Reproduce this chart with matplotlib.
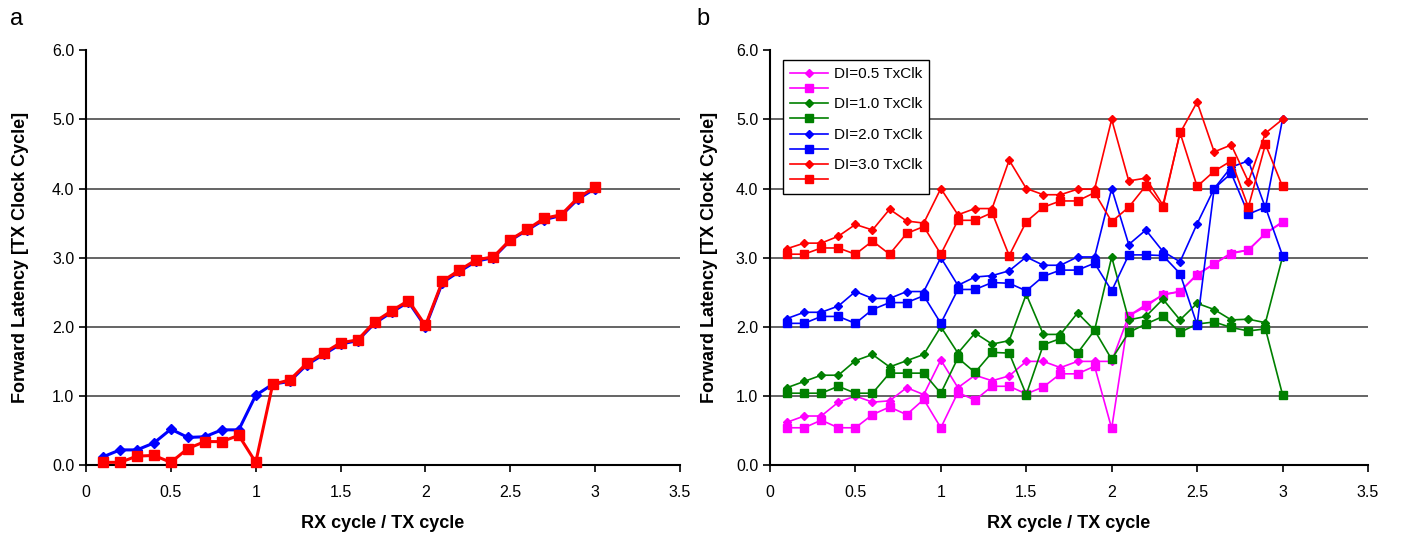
import matplotlib
matplotlib.use('Agg')
import matplotlib.pyplot as plt
from matplotlib.ticker import FormatStrFormatter

plt.rcParams['font.family'] = ['Liberation Sans', 'DejaVu Sans']

# ratio RX cycle / TX cycle
ratio = [0.1, 0.2, 0.3, 0.4, 0.5, 0.6, 0.7, 0.8, 0.9, 1.0,
         1.1, 1.2, 1.3, 1.4, 1.5, 1.6, 1.7, 1.8, 1.9, 2.0,
         2.1, 2.2, 2.3, 2.4, 2.5, 2.6, 2.7, 2.8, 2.9, 3.0]

# panel a
a_diamond = [0.12, 0.22, 0.22, 0.32, 0.52, 0.40, 0.41, 0.51, 0.51, 1.01,
             1.17, 1.21, 1.45, 1.60, 1.75, 1.80, 2.05, 2.21, 2.36, 2.00,
             2.64, 2.80, 2.95, 3.00, 3.25, 3.40, 3.55, 3.61, 3.85, 4.00]
a_square = [0.04, 0.04, 0.13, 0.14, 0.04, 0.24, 0.34, 0.34, 0.43, 0.04,
            1.17, 1.23, 1.47, 1.62, 1.77, 1.81, 2.07, 2.23, 2.38, 2.02,
            2.66, 2.82, 2.97, 3.01, 3.26, 3.41, 3.57, 3.62, 3.87, 4.02]

# panel b, one diamond and one square series per DI value
di_labels = ['DI=0.5 TxClk', 'DI=1.0 TxClk', 'DI=2.0 TxClk', 'DI=3.0 TxClk']
di_colors = ['#FF00FF', '#008000', '#0000FF', '#FF0000']

di05_d = [0.62, 0.71, 0.71, 0.91, 1.00, 0.91, 0.93, 1.12, 1.02, 1.52,
          1.12, 1.30, 1.22, 1.29, 1.50, 1.50, 1.41, 1.50, 1.50, 1.50,
          2.16, 2.29, 2.47, 2.51, 2.76, 2.91, 3.07, 3.11, 3.35, 3.51]
di05_s = [0.54, 0.54, 0.65, 0.54, 0.54, 0.73, 0.84, 0.73, 0.95, 0.54,
          1.05, 0.94, 1.14, 1.14, 1.03, 1.13, 1.32, 1.32, 1.43, 0.53,
          2.16, 2.32, 2.46, 2.51, 2.75, 2.91, 3.06, 3.11, 3.35, 3.52]
di10_d = [1.12, 1.21, 1.30, 1.30, 1.51, 1.60, 1.42, 1.51, 1.60, 2.00,
          1.62, 1.91, 1.75, 1.80, 2.47, 1.89, 1.89, 2.20, 1.95, 3.01,
          2.10, 2.15, 2.40, 2.10, 2.34, 2.25, 2.10, 2.11, 2.06, 3.01]
di10_s = [1.04, 1.04, 1.04, 1.14, 1.04, 1.04, 1.33, 1.33, 1.33, 1.04,
          1.55, 1.34, 1.63, 1.62, 1.02, 1.74, 1.83, 1.62, 1.95, 1.53,
          1.92, 2.04, 2.15, 1.92, 2.04, 2.07, 1.99, 1.94, 1.97, 1.02]
di20_d = [2.12, 2.21, 2.21, 2.30, 2.51, 2.41, 2.41, 2.51, 2.51, 3.00,
          2.60, 2.72, 2.74, 2.81, 3.01, 2.89, 2.89, 3.01, 3.01, 4.00,
          3.19, 3.40, 3.09, 2.94, 3.49, 4.00, 4.31, 4.40, 3.72, 5.00]
di20_s = [2.05, 2.05, 2.15, 2.15, 2.05, 2.25, 2.35, 2.35, 2.45, 2.05,
          2.54, 2.54, 2.64, 2.63, 2.52, 2.73, 2.82, 2.82, 2.92, 2.52,
          3.04, 3.04, 3.03, 2.77, 2.03, 4.00, 4.22, 3.63, 3.73, 3.03]
di30_d = [3.13, 3.21, 3.21, 3.31, 3.48, 3.40, 3.70, 3.53, 3.50, 4.00,
          3.62, 3.71, 3.71, 4.41, 4.00, 3.91, 3.91, 3.99, 3.99, 5.00,
          4.11, 4.15, 3.76, 4.80, 5.25, 4.53, 4.63, 4.10, 4.80, 5.00]
di30_s = [3.05, 3.05, 3.14, 3.14, 3.05, 3.24, 3.05, 3.35, 3.45, 3.05,
          3.54, 3.54, 3.65, 3.03, 3.52, 3.73, 3.82, 3.82, 3.94, 3.52,
          3.73, 4.04, 3.73, 4.81, 4.03, 4.25, 4.40, 3.73, 4.64, 4.03]

di_diamonds = [di05_d, di10_d, di20_d, di30_d]
di_squares = [di05_s, di10_s, di20_s, di30_s]

x_ticks = [0, 0.5, 1, 1.5, 2, 2.5, 3, 3.5]
x_ticklabels = ['0', '0.5', '1', '1.5', '2', '2.5', '3', '3.5']
y_ticks = [0, 1, 2, 3, 4, 5, 6]


def style_axes(ax, ypad):
    ax.set_xlim(0, 3.5)
    ax.set_ylim(0, 6)
    ax.set_xticks(x_ticks)
    ax.set_xticklabels(x_ticklabels)
    ax.set_yticks(y_ticks)
    ax.yaxis.set_major_formatter(FormatStrFormatter('%.1f'))
    ax.tick_params(labelsize=11.5, direction='out', length=5, width=1.2)
    ax.tick_params(axis='x', pad=9)
    ax.yaxis.grid(True, color='#3a3a3a', linewidth=1.1)
    ax.get_ygridlines()[-1].set_visible(False)
    ax.set_axisbelow(True)
    for side in ['top', 'right']:
        ax.spines[side].set_visible(False)
    for side in ['left', 'bottom']:
        ax.spines[side].set_linewidth(1.5)
    ax.set_xlabel('RX cycle / TX cycle', fontsize=13, fontweight='bold', labelpad=11)
    ax.set_ylabel('Forward Latency [TX Clock Cycle]', fontsize=13,
                  fontweight='bold', labelpad=ypad)


fig = plt.figure(figsize=(14.01, 5.34), dpi=100)
ax1 = fig.add_axes([0.0614, 0.129, 0.424, 0.777])
ax2 = fig.add_axes([0.5496, 0.129, 0.4268, 0.777])

# panel a
ax1.plot(ratio, a_diamond, color='#0000FF', marker='D', markersize=5.5,
         linewidth=2.2, clip_on=False, zorder=3)
ax1.plot(ratio, a_square, color='#FF0000', marker='s', markersize=7,
         linewidth=2.2, clip_on=False, zorder=4)
style_axes(ax1, 16.5)

# panel b
handles = []
labels = []
for lab, col, yd, ys in zip(di_labels, di_colors, di_diamonds, di_squares):
    hd, = ax2.plot(ratio, yd, color=col, marker='D', markersize=4.2,
                   linewidth=1.2, clip_on=False, zorder=3)
    hs, = ax2.plot(ratio, ys, color=col, marker='s', markersize=5.5,
                   linewidth=1.2, clip_on=False, zorder=3)
    handles += [hd, hs]
    labels += [lab, '']
style_axes(ax2, 13)
leg = ax2.legend(handles, labels, loc='upper left', bbox_to_anchor=(0.022, 0.976),
                 borderaxespad=0, fontsize=11, handlelength=2.5, labelspacing=0.08,
                 fancybox=False, edgecolor='black', framealpha=1,
                 borderpad=0.45, handletextpad=0.35)
leg.get_frame().set_linewidth(1.0)

fig.text(0.007, 0.965, 'a', fontsize=17, va='center', ha='left')
fig.text(0.497, 0.965, 'b', fontsize=17, va='center', ha='left')

fig.savefig('out.png', dpi=100)
